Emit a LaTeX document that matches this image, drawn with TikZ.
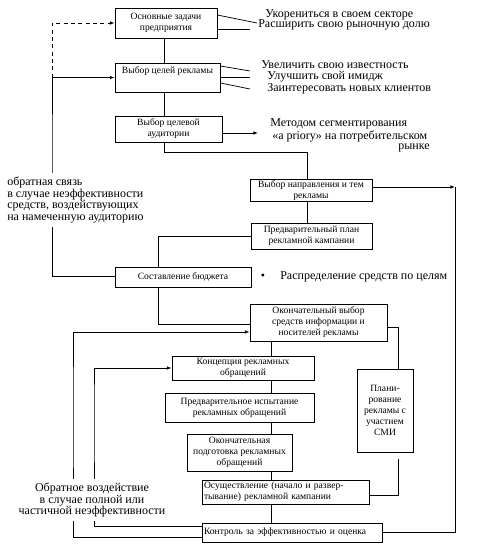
\documentclass[tikz,border=0pt]{standalone}
\usepackage{fontspec}
\setmainfont{Liberation Serif}
\usetikzlibrary{arrows.meta}
\newdimen\px
\px=0.75pt
\tikzset{
    blok/.style={draw, line width=0.6pt, inner sep=1pt, align=center, font=\fontsize{7.2}{8.3}\selectfont},
    zapis/.style={inner sep=0pt, anchor=west, font=\fontsize{9}{8.8}\selectfont},
    svyaz/.style={line width=0.55pt},
}
\begin{document}
\begin{tikzpicture}[x=\px, y=-\px, >={Latex[length=3.5pt,width=2.6pt]}]
\useasboundingbox (0,0) rectangle (476,553);
% bloki
\foreach \n/\x/\y/\w/\h/\t in {zad/166/23/102/30/{Основные задачи\\предприятия}, aud/168.5/129/107/26/{Выбор целевой\\аудитории}, napr/311/190.5/122/21/{Выбор направления и тем\\рекламы}, plan/311.5/236/121/26/{Предварительный план\\рекламной кампании}, bud/183/277/136/20/{Составление бюджета}, okon/318.5/322.5/137/37/{Окончательный выбор\\средств информации и\\носителей рекламы}, konc/243/368/142/24/{Концепция рекламных\\обращений}, isp/239.5/407.5/149/29/{Предварительное испытание\\рекламных обращений}, podg/239.5/452.5/105/37/{Окончательная\\подготовка рекламных\\обращений}, smi/385/410.5/56/83/{Плани-\\рование\\рекламы с\\участием\\СМИ}}{
    \node[blok, minimum width=\w\px, minimum height=\h\px] (\n) at (\x,\y) {\t};
}
\node[blok, minimum width=105\px, minimum height=29\px, text depth=15\px] (cel) at (167.5,77.5) {Выбор целей рекламы};
\node[blok, align=left, text width=164\px, minimum height=24\px] (osush) at (286,492) {Осуществление (начало и развер-\\тывание) рекламной кампании};
\node[blok, align=left, text width=177\px, minimum height=19\px] (kontr) at (292.5,532.5) {Контроль за эффективностью и оценка};
% teksty sprava
\foreach \n/\x/\y/\t in {uk/265/15/{Укорениться в своем секторе}, ras/258/25/{Расширить свою рыночную долю}, uv/261/65/{Увеличить свою известность}, ul/267/77/{Улучшить свой имидж}, zn/267/89/{Заинтересовать новых клиентов}, met/270/124/{Методом сегментирования}, apr/272/136/{«a priory» на потребительском}, raspr/280/277/{Распределение средств по целям}}{
    \node[zapis] (\n) at (\x,\y) {\t};
}
\node[zapis, anchor=east] (ryn) at (430,148) {рынке};
\node[zapis, anchor=center] (tochka) at (263,277) {•};
% osi
\coordinate (os1) at (164,0);
\coordinate (os2) at (307,0);
\coordinate (os3) at (271,0);
\coordinate (os4) at (158,0);
\coordinate (os5) at (398,0);
\coordinate (l0) at (52,150);
\coordinate (l1) at (73,400);
\coordinate (l2) at (94,400);
\coordinate (pr) at (455,187);
\coordinate (m1) at (258,133);
\coordinate (z1) at (257,23);
\coordinate (z2) at (250,29);
\coordinate (c1) at (250,71);
\coordinate (c2) at (250,77);
\coordinate (c3) at (250,89);
% svyazi
\foreach \a/\b in {zad/cel, cel/aud}
    \draw[svyaz] (\a.south -| os1) -- (\b.north -| os1);
\draw[svyaz] (napr.south -| os2) -- (plan.north -| os2);
\foreach \a/\b in {okon/konc, konc/isp, isp/podg, podg/osush, osush/kontr}
    \draw[svyaz] (\a.south -| os3) -- (\b.north -| os3);
\draw[svyaz] (aud.south -| os1) -- ++(0,10) -| (napr.north -| os2);
\draw[svyaz] (plan.west) -| (bud.north -| os4);
\draw[svyaz] (bud.south -| os4) |- ([yshift=-1.5\px]okon.west);
\draw[svyaz] ([yshift=8\px]zad.east) -- (z1);
\draw[svyaz] ([yshift=-6\px]zad.east) -- (z2);
\draw[svyaz] ([yshift=11.5\px]cel.east) -- (c1);
\draw[svyaz] (cel.east |- c2) -- (c2);
\draw[svyaz] ([yshift=-5.5\px]cel.east) -- (c3);
\draw[svyaz, ->] (aud.east |- m1) -- (m1);
\draw[svyaz, ->] (napr.east |- pr) -- (pr);
\draw[svyaz] (pr) |- (kontr.east);
\draw[svyaz] ([yshift=-4.5\px]okon.east) -| (smi.north -| os5);
\draw[svyaz, shorten <=7\px] (smi.south -| os5) |- ([yshift=-3\px]osush.east);
\draw[svyaz, ->] ([yshift=-4.5\px]kontr.west) -| (l1) |- ([yshift=-9.5\px]okon.west);
\draw[svyaz, ->] ([yshift=6.5\px]kontr.west) -| (l2) |- (konc.west);
\draw[svyaz, ->] ([yshift=1\px]bud.west) -| (l0) |- (cel.west);
\draw[svyaz, ->, dash pattern=on 3pt off 2.5pt] (l0 |- cel.west) |- (zad.west);
% obratnaya svyaz
\node[zapis, fill=white, inner sep=3pt, align=left, anchor=west] (fb1) at (3,200) {обратная связь\\в случае неэффективности\\средств, воздействующих\\на намеченную аудиторию};
\node[zapis, fill=white, inner sep=3pt, align=center, anchor=center] (fb2) at (92,500) {Обратное воздействие\\в случае полной или\\частичной неэффективности};
\end{tikzpicture}
\end{document}
